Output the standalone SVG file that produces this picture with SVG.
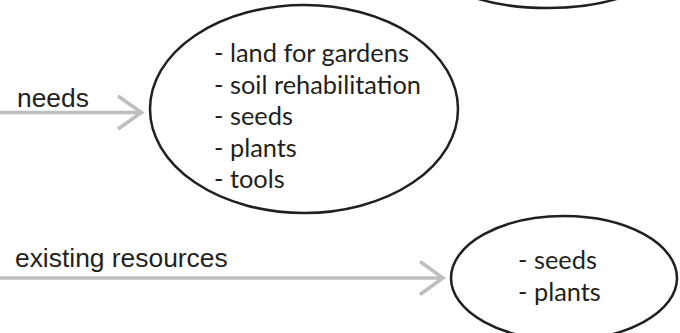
<svg xmlns="http://www.w3.org/2000/svg" width="680" height="333" viewBox="0 0 680 333">
<style>
.node{fill:#ffffff;stroke:#231f20;stroke-width:2.5}
.item{font-family:Lato,"Open Sans",sans-serif;font-size:25.4px;fill:#231f20}
.lbl{font-family:"Liberation Sans",Arial,sans-serif;font-size:26.4px;fill:#231f20}
.conn{fill:none;stroke:#bcbec0;stroke-width:3.5}
</style>
<rect width="680" height="333" fill="#ffffff"/>
<g id="top-node">
<ellipse class="node" cx="547.5" cy="-40" rx="118" ry="48"/>
</g>
<g id="needs-node">
<ellipse class="node" cx="304" cy="109" rx="154" ry="104"/>
<text class="item" x="214" y="62">- land for gardens</text>
<text class="item" x="214" y="93.5">- soil rehabilitation</text>
<text class="item" x="214" y="125">- seeds</text>
<text class="item" x="214" y="156.5">- plants</text>
<text class="item" x="214" y="188">- tools</text>
</g>
<g id="resources-node">
<ellipse class="node" cx="564" cy="278" rx="113" ry="62"/>
<text class="item" x="518" y="269">- seeds</text>
<text class="item" x="518" y="301">- plants</text>
</g>
<g id="connectors">
<g id="needs-edge">
<path class="conn" d="M0 112.5H141.5M118 96L141.5 112.5L118 129"/>
<text class="lbl" x="17" y="107">needs</text>
</g>
<g id="resources-edge">
<path class="conn" d="M0 278H443M420 261.5L443 278L420 294.5"/>
<text class="lbl" x="15" y="267">existing resources</text>
</g>
</g>
</svg>
